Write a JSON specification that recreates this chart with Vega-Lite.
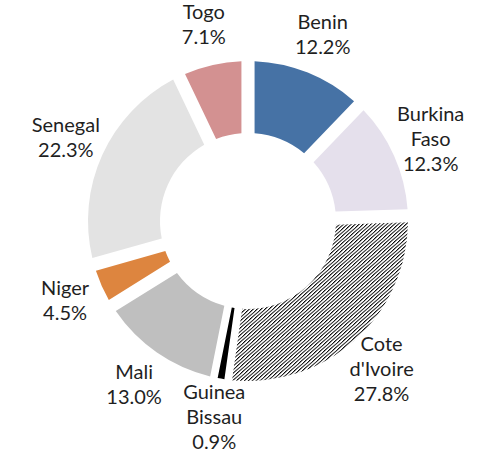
{
  "$schema": "https://vega.github.io/schema/vega-lite/v6.json",
  "width": 460,
  "height": 442,
  "autosize": "none",
  "padding": {"left": 18, "top": 0, "right": 0, "bottom": 19},
  "background": "white",
  "view": {"stroke": null},
  "data": {
    "values": [
      {"country": "Benin", "share": 12.2, "order": 1},
      {"country": "Burkina Faso", "share": 12.3, "order": 2},
      {"country": "Cote d'Ivoire", "share": 27.8, "order": 3},
      {"country": "Guinea Bissau", "share": 0.9, "order": 4},
      {"country": "Mali", "share": 13.0, "order": 5},
      {"country": "Niger", "share": 4.5, "order": 6},
      {"country": "Senegal", "share": 22.3, "order": 7},
      {"country": "Togo", "share": 7.1, "order": 8}
    ]
  },
  "transform": [
    {"calculate": "replace(datum.country, ' ', '|') + '|' + format(datum.share, '.1f') + '%'", "as": "label"},
    {"calculate": "indexof(datum.country, ' ') < 0 ? datum.label : ''", "as": "label2"},
    {"calculate": "indexof(datum.country, ' ') >= 0 ? datum.label : ''", "as": "label3"}
  ],
  "encoding": {
    "theta": {"field": "share", "type": "quantitative", "stack": true},
    "order": {"field": "order", "type": "quantitative"}
  },
  "layer": [
    {
      "mark": {"type": "arc", "innerRadius": 88, "outerRadius": 160, "padAngle": 0.072},
      "encoding": {
        "fill": {
          "condition": {
            "test": "datum.country === \"Cote d'Ivoire\"",
            "value": {
              "gradient": "linear", "x1": 0, "y1": 0, "x2": 1, "y2": 1,
              "stops": [
                {"offset":0,"color":"#000"},{"offset":0.0056,"color":"#fff"},{"offset":0.0089,"color":"#fff"},{"offset":0.0111,"color":"#000"},{"offset":0.0167,"color":"#fff"},{"offset":0.02,"color":"#fff"},{"offset":0.0222,"color":"#000"},{"offset":0.0278,"color":"#fff"},{"offset":0.0311,"color":"#fff"},{"offset":0.0333,"color":"#000"},{"offset":0.0389,"color":"#fff"},{"offset":0.0422,"color":"#fff"},{"offset":0.0444,"color":"#000"},{"offset":0.05,"color":"#fff"},{"offset":0.0533,"color":"#fff"},{"offset":0.0556,"color":"#000"},{"offset":0.0611,"color":"#fff"},{"offset":0.0644,"color":"#fff"},{"offset":0.0667,"color":"#000"},{"offset":0.0722,"color":"#fff"},{"offset":0.0756,"color":"#fff"},{"offset":0.0778,"color":"#000"},{"offset":0.0833,"color":"#fff"},{"offset":0.0867,"color":"#fff"},{"offset":0.0889,"color":"#000"},{"offset":0.0944,"color":"#fff"},{"offset":0.0978,"color":"#fff"},
                {"offset":0.1,"color":"#000"},{"offset":0.1056,"color":"#fff"},{"offset":0.1089,"color":"#fff"},{"offset":0.1111,"color":"#000"},{"offset":0.1167,"color":"#fff"},{"offset":0.12,"color":"#fff"},{"offset":0.1222,"color":"#000"},{"offset":0.1278,"color":"#fff"},{"offset":0.1311,"color":"#fff"},{"offset":0.1333,"color":"#000"},{"offset":0.1389,"color":"#fff"},{"offset":0.1422,"color":"#fff"},{"offset":0.1444,"color":"#000"},{"offset":0.15,"color":"#fff"},{"offset":0.1533,"color":"#fff"},{"offset":0.1556,"color":"#000"},{"offset":0.1611,"color":"#fff"},{"offset":0.1644,"color":"#fff"},{"offset":0.1667,"color":"#000"},{"offset":0.1722,"color":"#fff"},{"offset":0.1756,"color":"#fff"},{"offset":0.1778,"color":"#000"},{"offset":0.1833,"color":"#fff"},{"offset":0.1867,"color":"#fff"},{"offset":0.1889,"color":"#000"},{"offset":0.1944,"color":"#fff"},{"offset":0.1978,"color":"#fff"},
                {"offset":0.2,"color":"#000"},{"offset":0.2056,"color":"#fff"},{"offset":0.2089,"color":"#fff"},{"offset":0.2111,"color":"#000"},{"offset":0.2167,"color":"#fff"},{"offset":0.22,"color":"#fff"},{"offset":0.2222,"color":"#000"},{"offset":0.2278,"color":"#fff"},{"offset":0.2311,"color":"#fff"},{"offset":0.2333,"color":"#000"},{"offset":0.2389,"color":"#fff"},{"offset":0.2422,"color":"#fff"},{"offset":0.2444,"color":"#000"},{"offset":0.25,"color":"#fff"},{"offset":0.2533,"color":"#fff"},{"offset":0.2556,"color":"#000"},{"offset":0.2611,"color":"#fff"},{"offset":0.2644,"color":"#fff"},{"offset":0.2667,"color":"#000"},{"offset":0.2722,"color":"#fff"},{"offset":0.2756,"color":"#fff"},{"offset":0.2778,"color":"#000"},{"offset":0.2833,"color":"#fff"},{"offset":0.2867,"color":"#fff"},{"offset":0.2889,"color":"#000"},{"offset":0.2944,"color":"#fff"},{"offset":0.2978,"color":"#fff"},
                {"offset":0.3,"color":"#000"},{"offset":0.3056,"color":"#fff"},{"offset":0.3089,"color":"#fff"},{"offset":0.3111,"color":"#000"},{"offset":0.3167,"color":"#fff"},{"offset":0.32,"color":"#fff"},{"offset":0.3222,"color":"#000"},{"offset":0.3278,"color":"#fff"},{"offset":0.3311,"color":"#fff"},{"offset":0.3333,"color":"#000"},{"offset":0.3389,"color":"#fff"},{"offset":0.3422,"color":"#fff"},{"offset":0.3444,"color":"#000"},{"offset":0.35,"color":"#fff"},{"offset":0.3533,"color":"#fff"},{"offset":0.3556,"color":"#000"},{"offset":0.3611,"color":"#fff"},{"offset":0.3644,"color":"#fff"},{"offset":0.3667,"color":"#000"},{"offset":0.3722,"color":"#fff"},{"offset":0.3756,"color":"#fff"},{"offset":0.3778,"color":"#000"},{"offset":0.3833,"color":"#fff"},{"offset":0.3867,"color":"#fff"},{"offset":0.3889,"color":"#000"},{"offset":0.3944,"color":"#fff"},{"offset":0.3978,"color":"#fff"},
                {"offset":0.4,"color":"#000"},{"offset":0.4056,"color":"#fff"},{"offset":0.4089,"color":"#fff"},{"offset":0.4111,"color":"#000"},{"offset":0.4167,"color":"#fff"},{"offset":0.42,"color":"#fff"},{"offset":0.4222,"color":"#000"},{"offset":0.4278,"color":"#fff"},{"offset":0.4311,"color":"#fff"},{"offset":0.4333,"color":"#000"},{"offset":0.4389,"color":"#fff"},{"offset":0.4422,"color":"#fff"},{"offset":0.4444,"color":"#000"},{"offset":0.45,"color":"#fff"},{"offset":0.4533,"color":"#fff"},{"offset":0.4556,"color":"#000"},{"offset":0.4611,"color":"#fff"},{"offset":0.4644,"color":"#fff"},{"offset":0.4667,"color":"#000"},{"offset":0.4722,"color":"#fff"},{"offset":0.4756,"color":"#fff"},{"offset":0.4778,"color":"#000"},{"offset":0.4833,"color":"#fff"},{"offset":0.4867,"color":"#fff"},{"offset":0.4889,"color":"#000"},{"offset":0.4944,"color":"#fff"},{"offset":0.4978,"color":"#fff"},
                {"offset":0.5,"color":"#000"},{"offset":0.5056,"color":"#fff"},{"offset":0.5089,"color":"#fff"},{"offset":0.5111,"color":"#000"},{"offset":0.5167,"color":"#fff"},{"offset":0.52,"color":"#fff"},{"offset":0.5222,"color":"#000"},{"offset":0.5278,"color":"#fff"},{"offset":0.5311,"color":"#fff"},{"offset":0.5333,"color":"#000"},{"offset":0.5389,"color":"#fff"},{"offset":0.5422,"color":"#fff"},{"offset":0.5444,"color":"#000"},{"offset":0.55,"color":"#fff"},{"offset":0.5533,"color":"#fff"},{"offset":0.5556,"color":"#000"},{"offset":0.5611,"color":"#fff"},{"offset":0.5644,"color":"#fff"},{"offset":0.5667,"color":"#000"},{"offset":0.5722,"color":"#fff"},{"offset":0.5756,"color":"#fff"},{"offset":0.5778,"color":"#000"},{"offset":0.5833,"color":"#fff"},{"offset":0.5867,"color":"#fff"},{"offset":0.5889,"color":"#000"},{"offset":0.5944,"color":"#fff"},{"offset":0.5978,"color":"#fff"},
                {"offset":0.6,"color":"#000"},{"offset":0.6056,"color":"#fff"},{"offset":0.6089,"color":"#fff"},{"offset":0.6111,"color":"#000"},{"offset":0.6167,"color":"#fff"},{"offset":0.62,"color":"#fff"},{"offset":0.6222,"color":"#000"},{"offset":0.6278,"color":"#fff"},{"offset":0.6311,"color":"#fff"},{"offset":0.6333,"color":"#000"},{"offset":0.6389,"color":"#fff"},{"offset":0.6422,"color":"#fff"},{"offset":0.6444,"color":"#000"},{"offset":0.65,"color":"#fff"},{"offset":0.6533,"color":"#fff"},{"offset":0.6556,"color":"#000"},{"offset":0.6611,"color":"#fff"},{"offset":0.6644,"color":"#fff"},{"offset":0.6667,"color":"#000"},{"offset":0.6722,"color":"#fff"},{"offset":0.6756,"color":"#fff"},{"offset":0.6778,"color":"#000"},{"offset":0.6833,"color":"#fff"},{"offset":0.6867,"color":"#fff"},{"offset":0.6889,"color":"#000"},{"offset":0.6944,"color":"#fff"},{"offset":0.6978,"color":"#fff"},
                {"offset":0.7,"color":"#000"},{"offset":0.7056,"color":"#fff"},{"offset":0.7089,"color":"#fff"},{"offset":0.7111,"color":"#000"},{"offset":0.7167,"color":"#fff"},{"offset":0.72,"color":"#fff"},{"offset":0.7222,"color":"#000"},{"offset":0.7278,"color":"#fff"},{"offset":0.7311,"color":"#fff"},{"offset":0.7333,"color":"#000"},{"offset":0.7389,"color":"#fff"},{"offset":0.7422,"color":"#fff"},{"offset":0.7444,"color":"#000"},{"offset":0.75,"color":"#fff"},{"offset":0.7533,"color":"#fff"},{"offset":0.7556,"color":"#000"},{"offset":0.7611,"color":"#fff"},{"offset":0.7644,"color":"#fff"},{"offset":0.7667,"color":"#000"},{"offset":0.7722,"color":"#fff"},{"offset":0.7756,"color":"#fff"},{"offset":0.7778,"color":"#000"},{"offset":0.7833,"color":"#fff"},{"offset":0.7867,"color":"#fff"},{"offset":0.7889,"color":"#000"},{"offset":0.7944,"color":"#fff"},{"offset":0.7978,"color":"#fff"},
                {"offset":0.8,"color":"#000"},{"offset":0.8056,"color":"#fff"},{"offset":0.8089,"color":"#fff"},{"offset":0.8111,"color":"#000"},{"offset":0.8167,"color":"#fff"},{"offset":0.82,"color":"#fff"},{"offset":0.8222,"color":"#000"},{"offset":0.8278,"color":"#fff"},{"offset":0.8311,"color":"#fff"},{"offset":0.8333,"color":"#000"},{"offset":0.8389,"color":"#fff"},{"offset":0.8422,"color":"#fff"},{"offset":0.8444,"color":"#000"},{"offset":0.85,"color":"#fff"},{"offset":0.8533,"color":"#fff"},{"offset":0.8556,"color":"#000"},{"offset":0.8611,"color":"#fff"},{"offset":0.8644,"color":"#fff"},{"offset":0.8667,"color":"#000"},{"offset":0.8722,"color":"#fff"},{"offset":0.8756,"color":"#fff"},{"offset":0.8778,"color":"#000"},{"offset":0.8833,"color":"#fff"},{"offset":0.8867,"color":"#fff"},{"offset":0.8889,"color":"#000"},{"offset":0.8944,"color":"#fff"},{"offset":0.8978,"color":"#fff"},
                {"offset":0.9,"color":"#000"},{"offset":0.9056,"color":"#fff"},{"offset":0.9089,"color":"#fff"},{"offset":0.9111,"color":"#000"},{"offset":0.9167,"color":"#fff"},{"offset":0.92,"color":"#fff"},{"offset":0.9222,"color":"#000"},{"offset":0.9278,"color":"#fff"},{"offset":0.9311,"color":"#fff"},{"offset":0.9333,"color":"#000"},{"offset":0.9389,"color":"#fff"},{"offset":0.9422,"color":"#fff"},{"offset":0.9444,"color":"#000"},{"offset":0.95,"color":"#fff"},{"offset":0.9533,"color":"#fff"},{"offset":0.9556,"color":"#000"},{"offset":0.9611,"color":"#fff"},{"offset":0.9644,"color":"#fff"},{"offset":0.9667,"color":"#000"},{"offset":0.9722,"color":"#fff"},{"offset":0.9756,"color":"#fff"},{"offset":0.9778,"color":"#000"},{"offset":0.9833,"color":"#fff"},{"offset":0.9867,"color":"#fff"},{"offset":0.9889,"color":"#000"},{"offset":0.9944,"color":"#fff"},{"offset":0.9978,"color":"#fff"},
                {"offset":1,"color":"#000"}
              ]
            }
          },
          "field": "country",
          "type": "nominal",
          "legend": null,
          "scale": {
            "domain": ["Benin", "Burkina Faso", "Cote d'Ivoire", "Guinea Bissau", "Mali", "Niger", "Senegal", "Togo"],
            "range": ["#4672A5", "#E5E0EC", "#858585", "#000000", "#BFBFBF", "#DD853F", "#E3E3E3", "#D39191"]
          }
        },
        "fillOpacity": {"condition": {"test": "datum.country === 'Guinea Bissau'", "value": 0}, "value": 1}
      }
    },
    {
      "mark": {"type": "arc", "innerRadius": 88, "outerRadius": 160, "padAngle": 0.012, "fill": "#000000"},
      "encoding": {
        "fillOpacity": {"condition": {"test": "datum.country === 'Guinea Bissau'", "value": 1}, "value": 0}
      }
    },
    {
      "mark": {"type": "text", "radius": 200, "dy": -12.5, "lineBreak": "|", "font": "Lato", "fontSize": 20, "lineHeight": 25, "fill": "#1f1f1f", "align": "center", "baseline": "middle"},
      "encoding": {"text": {"field": "label2", "type": "nominal"}}
    },
    {
      "mark": {"type": "text", "radius": 200, "dy": -25, "lineBreak": "|", "font": "Lato", "fontSize": 20, "lineHeight": 25, "fill": "#1f1f1f", "align": "center", "baseline": "middle"},
      "encoding": {"text": {"field": "label3", "type": "nominal"}}
    }
  ]
}
